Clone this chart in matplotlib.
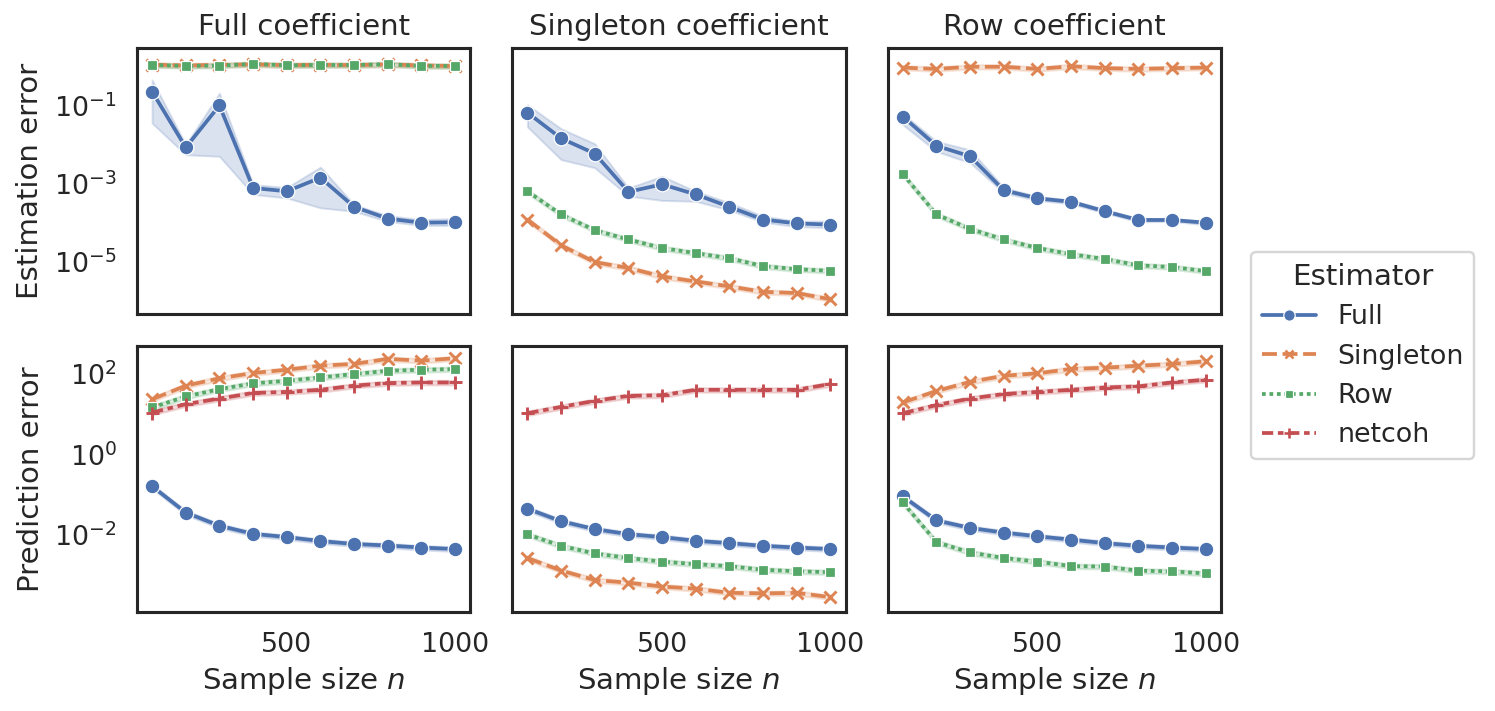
import numpy as np
import matplotlib
matplotlib.use("Agg")
import matplotlib.pyplot as plt
from matplotlib.lines import Line2D
import seaborn as sns

# ---------------- data ----------------
n_values = [100, 200, 300, 400, 500, 600, 700, 800, 900, 1000]
estimators = ["Full", "Singleton", "Row", "netcoh"]
col_titles = ["Full coefficient", "Singleton coefficient", "Row coefficient"]
row_labels = ["Estimation error", "Prediction error"]
x_ticks = [500, 1000]
y_ticks_est = [1e-1, 1e-3, 1e-5]
y_ticks_pred = [1e2, 1e0, 1e-2]

# Estimation error, Full coefficient
est_full_full = [0.232, 0.0086, 0.102, 7.9e-4, 6.5e-4, 1.45e-3, 2.6e-4, 1.3e-4, 1.02e-4, 1.05e-4]
est_full_full_lo = [0.036, 0.0056, 0.0051, 5.4e-4, 4.4e-4, 2.45e-4, 2.0e-4, 1.1e-4, 8.7e-5, 8.7e-5]
est_full_full_hi = [0.46, 0.0101, 0.21, 9.7e-4, 8.1e-4, 2.7e-3, 2.95e-4, 1.55e-4, 1.23e-4, 1.3e-4]
est_full_single = [1.13, 1.08, 1.12, 1.15, 1.10, 1.12, 1.10, 1.15, 1.08, 1.04]
est_full_row = [1.11, 1.05, 1.07, 1.18, 1.09, 1.11, 1.11, 1.16, 1.05, 1.05]

# Estimation error, Singleton coefficient
est_single_full = [0.067, 0.0147, 0.0060, 6.3e-4, 9.8e-4, 5.4e-4, 2.6e-4, 1.23e-4, 9.8e-5, 9.1e-5]
est_single_full_lo = [0.029, 0.0042, 0.0026, 4.9e-4, 3.8e-4, 3.6e-4, 2.15e-4, 1.05e-4, 8.1e-5, 7.6e-5]
est_single_full_hi = [0.106, 0.026, 0.0107, 7.9e-4, 1.58e-3, 6.5e-4, 3.3e-4, 1.5e-4, 1.12e-4, 1.12e-4]
est_single_single = [1.23e-4, 2.7e-5, 1.0e-5, 7.1e-6, 4.3e-6, 3.2e-6, 2.4e-6, 1.74e-6, 1.62e-6, 1.12e-6]
est_single_row = [6.5e-4, 1.66e-4, 6.6e-5, 3.8e-5, 2.3e-5, 1.7e-5, 1.26e-5, 7.9e-6, 6.6e-6, 6.0e-6]

# Estimation error, Row coefficient
est_row_full = [0.053, 0.0095, 0.0051, 6.9e-4, 4.3e-4, 3.5e-4, 2.0e-4, 1.2e-4, 1.2e-4, 1.02e-4]
est_row_full_lo = [0.033, 0.0068, 0.0035, 5.9e-4, 3.8e-4, 3.1e-4, 1.8e-4, 1.08e-4, 1.1e-4, 9.0e-5]
est_row_full_hi = [0.063, 0.0123, 0.0075, 8.1e-4, 4.8e-4, 3.9e-4, 2.25e-4, 1.3e-4, 1.3e-4, 1.12e-4]
est_row_single = [0.95, 0.88, 1.0, 1.0, 0.88, 1.03, 0.92, 0.88, 0.92, 0.95]
est_row_row = [1.8e-3, 1.66e-4, 7.1e-5, 3.8e-5, 2.3e-5, 1.6e-5, 1.2e-5, 8.3e-6, 7.5e-6, 5.9e-6]

# Prediction error, Full coefficient
pred_full_full = [0.162, 0.036, 0.017, 0.0107, 0.0089, 0.0071, 0.0060, 0.0055, 0.0049, 0.0045]
pred_full_single = [23, 50, 76, 103, 124, 156, 173, 230, 208, 239]
pred_full_row = [14.4, 27, 41, 57, 66, 80, 97, 117, 124, 129]
pred_full_netcoh = [10.8, 17.4, 24, 33, 35, 39.5, 50, 58, 60, 60]

# Prediction error, Singleton coefficient
pred_single_full = [0.045, 0.022, 0.014, 0.0105, 0.0089, 0.0072, 0.0063, 0.0054, 0.0049, 0.0045]
pred_single_single = [0.0027, 0.00132, 7.7e-4, 6.6e-4, 5.3e-4, 4.7e-4, 3.7e-4, 3.6e-4, 3.7e-4, 2.9e-4]
pred_single_row = [0.0104, 0.0054, 0.0035, 0.0027, 0.0022, 0.0019, 0.0017, 0.00138, 0.00127, 0.0012]
pred_single_netcoh = [10.4, 14.9, 21, 28, 29, 39.5, 39.5, 39.5, 39.5, 55]

# Prediction error, Row coefficient
pred_row_full = [0.091, 0.023, 0.015, 0.0115, 0.0093, 0.0077, 0.0063, 0.0054, 0.0049, 0.0045]
pred_row_single = [19.2, 37, 62, 88, 101, 130, 139, 156, 172, 201]
pred_row_row = [0.064, 0.0067, 0.0037, 0.0027, 0.0022, 0.0017, 0.00166, 0.00131, 0.00126, 0.00112]
pred_row_netcoh = [10.4, 16.5, 24, 31, 35, 39.5, 45, 48, 60, 70]

# ---------------- style ----------------
sns.set_theme(context="talk", style="white")
plt.rcParams["font.family"] = ["DejaVu Sans"]

colors = {"Full": "#4C72B0", "Singleton": "#DD8452", "Row": "#55A868", "netcoh": "#C44E52"}
dashes = {"Full": (None, None), "Singleton": (4, 1.5), "Row": (1, 1), "netcoh": (3, 1.25, 1.5, 1.25)}
markers = {"Full": "o", "Singleton": "x", "Row": "s", "netcoh": "+"}
msize = {"Full": 9, "Singleton": 7, "Row": 6, "netcoh": 8}
halo = 0.13  # relative half width of narrow confidence bands

panels = [
    [
        [("Full", est_full_full, est_full_full_lo, est_full_full_hi),
         ("Singleton", est_full_single, None, None),
         ("Row", est_full_row, None, None)],
        [("Full", est_single_full, est_single_full_lo, est_single_full_hi),
         ("Singleton", est_single_single, None, None),
         ("Row", est_single_row, None, None)],
        [("Full", est_row_full, est_row_full_lo, est_row_full_hi),
         ("Singleton", est_row_single, None, None),
         ("Row", est_row_row, None, None)],
    ],
    [
        [("Full", pred_full_full, None, None),
         ("Singleton", pred_full_single, None, None),
         ("Row", pred_full_row, None, None),
         ("netcoh", pred_full_netcoh, None, None)],
        [("Full", pred_single_full, None, None),
         ("Singleton", pred_single_single, None, None),
         ("Row", pred_single_row, None, None),
         ("netcoh", pred_single_netcoh, None, None)],
        [("Full", pred_row_full, None, None),
         ("Singleton", pred_row_single, None, None),
         ("Row", pred_row_row, None, None),
         ("netcoh", pred_row_netcoh, None, None)],
    ],
]

fig, axes = plt.subplots(2, 3, figsize=(1495 / 117, 711 / 117), dpi=117,
                         sharex=True, sharey="row")
fig.subplots_adjust(left=0.0916, right=0.8167, top=0.9325, bottom=0.139,
                    wspace=0.126, hspace=0.12)

x = np.array(n_values)
for r in range(2):
    for c in range(3):
        ax = axes[r, c]
        for name, vals, lo, hi in panels[r][c]:
            v = np.array(vals, dtype=float)
            if lo is None:
                lo_a = v * (1 - halo)
                hi_a = v * (1 + halo)
            else:
                lo_a = np.array(lo, dtype=float)
                hi_a = np.array(hi, dtype=float)
            col = colors[name]
            ax.fill_between(x, lo_a, hi_a, color=col, alpha=0.2, linewidth=1.2)
            filled = name in ("Full", "Row")
            line, = ax.plot(x, v, color=col, lw=2.3, marker=markers[name],
                            markersize=msize[name],
                            markeredgecolor="w" if filled else col,
                            markeredgewidth=0.75 if filled else 1.8)
            if dashes[name][0] is not None:
                line.set_dashes(dashes[name])
        ax.set_yscale("log")
        for s in ax.spines.values():
            s.set_color("0.15")
            s.set_linewidth(1.9)
        if r == 0:
            ax.set_title(col_titles[c], fontsize=18, pad=8)
        if r == 1:
            ax.set_xlabel("Sample size $n$", fontsize=18)
        if c == 0:
            ax.set_ylabel(row_labels[r], fontsize=18, labelpad=6)
        ax.tick_params(labelsize=16.5)

axes[0, 0].set_xticks(x_ticks)
axes[0, 0].set_ylim(10 ** -6.33, 10 ** 0.48)
axes[0, 0].set_yticks(y_ticks_est)
axes[1, 0].set_ylim(10 ** -3.91, 10 ** 2.68)
axes[1, 0].set_yticks(y_ticks_pred)
for ax in axes.flat:
    ax.yaxis.set_minor_locator(matplotlib.ticker.NullLocator())

handles = []
for name in estimators:
    filled = name in ("Full", "Row")
    h = Line2D([0], [0], color=colors[name], lw=2.3, marker=markers[name],
               markersize={"Full": 7, "Singleton": 5.5, "Row": 5, "netcoh": 6.5}[name],
               markeredgecolor="w" if filled else colors[name],
               markeredgewidth=0.75 if filled else 1.6)
    if dashes[name][0] is not None:
        h.set_dashes(dashes[name])
    handles.append(h)

fig.legend(handles, estimators, title="Estimator", loc="center left",
           bbox_to_anchor=(0.828, 0.5), fontsize=16.5, title_fontsize=18,
           frameon=True)

fig.savefig("out.png", dpi=117)
